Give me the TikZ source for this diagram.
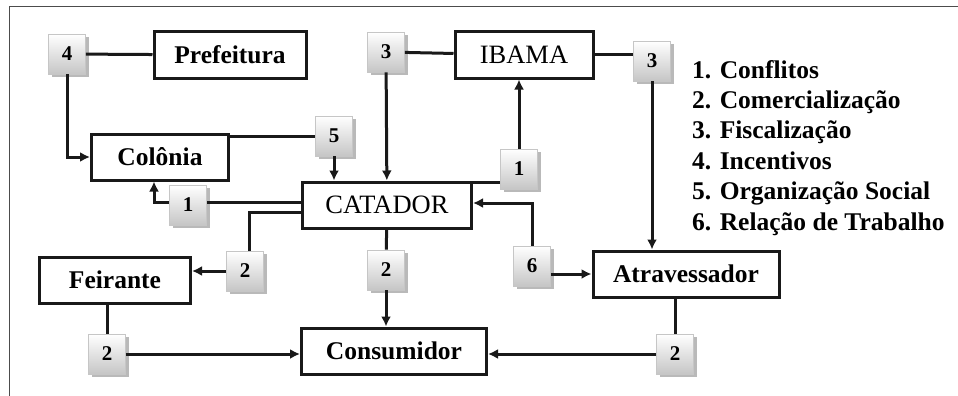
\documentclass[tikz,border=0pt]{standalone}
\usepackage{fontspec}
\setmainfont{Liberation Serif}
\usetikzlibrary{arrows.meta,shadows}

\begin{document}
\begin{tikzpicture}[x=1pt,y=-1pt]
  \tikzstyle{ator}  = [draw=black!90,line width=3pt,minimum height=46pt,inner sep=0pt,font=\fontsize{25.5}{30}\selectfont\bfseries]
  \tikzstyle{atorN} = [ator,font=\fontsize{26.5}{30}\selectfont]
  \tikzstyle{rel}   = [draw=gray!45,line width=0.8pt,top color=white,bottom color=gray!45,minimum width=37pt,minimum height=40pt,inner sep=0pt,font=\fontsize{21}{21}\selectfont\bfseries,drop shadow={shadow xshift=3pt,shadow yshift=-3pt,fill=gray!55,opacity=1}]
  \tikzstyle{lig}   = [line width=3pt,draw=black!90]
  \tikzstyle{sec}   = [lig,-{Latex[length=10pt,width=10pt]}]
  \useasboundingbox (0,0) rectangle (958,396);
  % moldura
  \draw[line width=1pt,gray!60!black] (9,396) -- (9,7) -- (958,7);
  % atores
  \path (230,55)  node[ator,minimum width=152pt](pref) {Prefeitura};
  \path (524,55)  node[atorN,minimum width=138pt](ibama) {IBAMA};
  \path (160,157) node[ator,minimum width=137pt](colonia) {Colônia};
  \path (387,205) node[atorN,minimum width=169pt](catador) {CATADOR};
  \path (115,280) node[ator,minimum width=151pt](feirante) {Feirante};
  \path (394,351) node[ator,minimum width=185pt](consumidor) {Consumidor};
  \path (686,274) node[ator,minimum width=186pt](atrav) {Atravessador};
  % relacoes
  \path (67,54)   node[rel](r4)  {4};
  \path (386,52)  node[rel](r3a) {3};
  \path (652,61)  node[rel](r3b) {3};
  \path (334,136) node[rel](r5)  {5};
  \path (188,205) node[rel](r1a) {1};
  \path (519,169) node[rel](r1b) {1};
  \path (245,271) node[rel](r2a) {2};
  \path (386,270) node[rel](r2b) {2};
  \path (107,354) node[rel](r2c) {2};
  \path (532,266) node[rel](r6)  {6};
  \path (675,354) node[rel](r2d) {2};
  % legenda
  \path (692,60) node[anchor=north west,align=left,inner sep=0pt,font=\fontsize{25.5}{30.4}\selectfont\bfseries](legenda)
    {1. Conflitos\\2. Comercialização\\3. Fiscalização\\4. Incentivos\\5. Organização Social\\6. Relação de Trabalho};
  % ligacoes
  \draw[lig] (r4) -- (pref);
  \draw[sec] (r4) |- (colonia);
  \draw[lig] (r3a) -- (ibama);
  \draw[sec] (r3a) -- (catador);
  \draw[lig] (ibama) -- (ibama -| r3b.west);
  \draw[sec] (r3b) -- (r3b |- atrav.north);
  \draw[lig] (colonia.east |- r5.west) -- (r5.west);
  \draw[sec] (r5) -- (r5 |- catador.north);
  \coordinate (k1) at ([yshift=3pt]r1a.west);
  \draw[lig] (k1 -| catador.west) -- (k1 -| r1a.east);
  \draw[sec] (k1) -| ([xshift=-6pt]colonia.south);
  \coordinate (k2) at ([yshift=-13pt]r1b.west);
  \draw[lig] (k2 -| catador.east) -- (k2);
  \draw[sec] (r1b) -- (r1b |- ibama.south);
  \draw[sec] (r6) |- ([yshift=2pt]catador.east);
  \draw[sec] (r6.east |- atrav.west) -- (atrav);
  \coordinate (k3) at ([yshift=-7pt]catador.west);
  \draw[lig] (k3) -| ([xshift=4pt]r2a.north);
  \draw[sec] (r2a.west) -- (r2a.west -| feirante.east);
  \draw[lig] (catador) -- (r2b);
  \draw[sec] (r2b) -- (r2b |- consumidor.north);
  \draw[lig] (feirante.south -| r2c) -- (r2c);
  \draw[sec] (r2c) -- (r2c -| consumidor.west);
  \draw[lig] (atrav.south -| r2d) -- (r2d);
  \draw[sec] (r2d) -- (r2d -| consumidor.east);
\end{tikzpicture}
\end{document}
